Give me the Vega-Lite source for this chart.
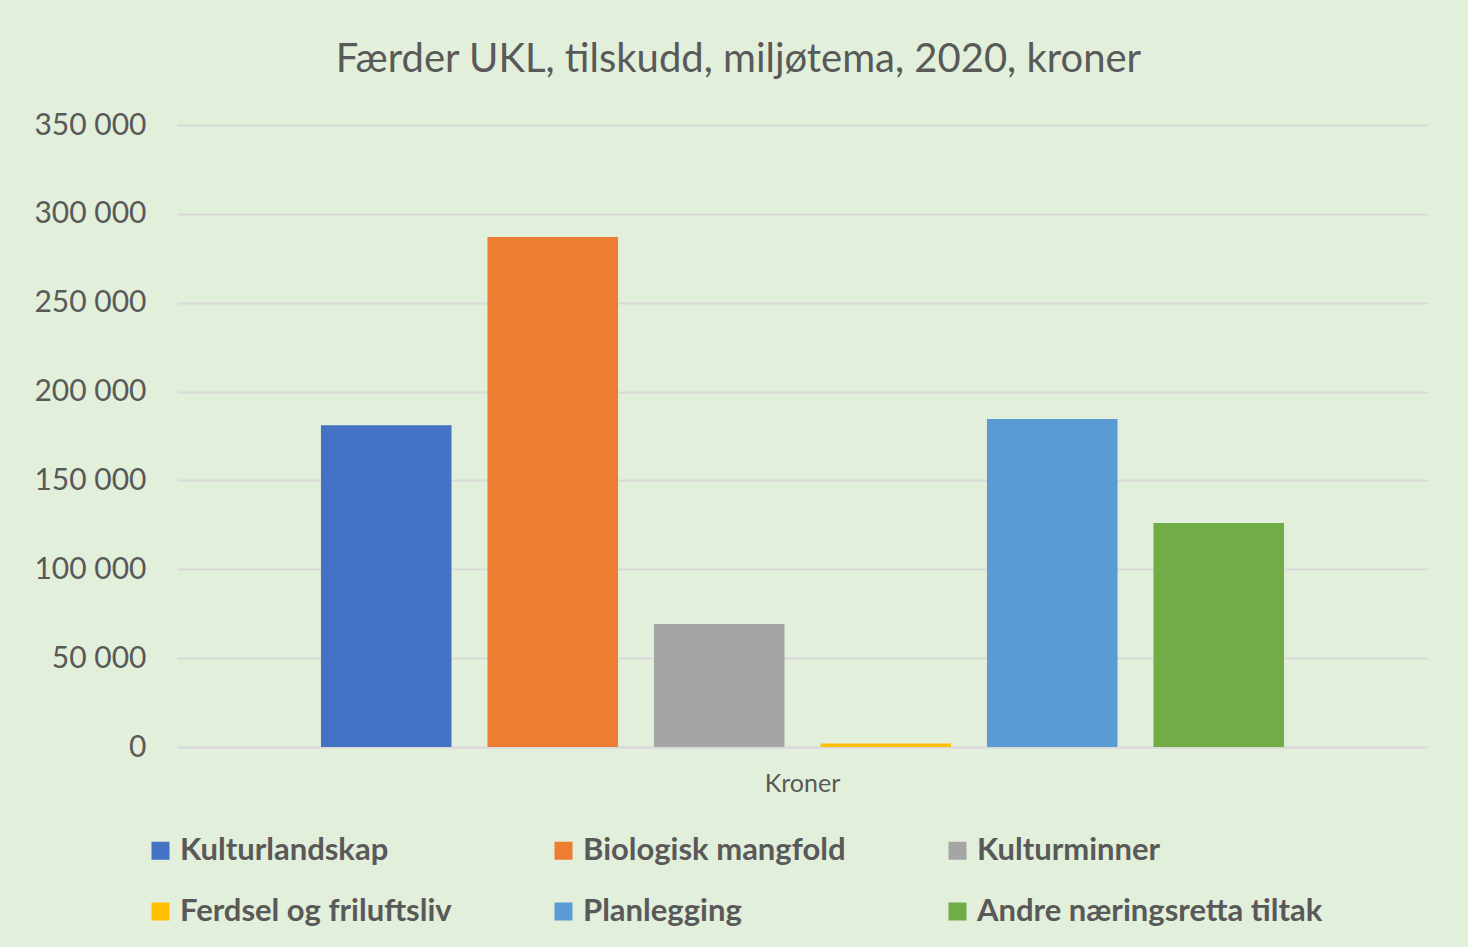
{
  "$schema": "https://vega.github.io/schema/vega-lite/v6.json",
  "width": 1251,
  "height": 622,
  "padding": {"left": 33, "top": 40, "right": 41, "bottom": 20},
  "background": "#E2EFDA",
  "config": {
    "font": "Lato",
    "view": {"stroke": null},
    "locale": {"number": {"decimal": ",", "thousands": " ", "grouping": [3], "currency": ["", " kr"]}}
  },
  "title": {
    "text": "Færder UKL, tilskudd, miljøtema, 2020, kroner",
    "fontSize": 40,
    "fontWeight": "normal",
    "color": "#595959",
    "anchor": "middle",
    "dx": -64,
    "offset": 30
  },
  "data": {
    "values": [
      {"enhet": "Kroner", "tema": "Kulturlandskap", "kroner": 181000},
      {"enhet": "Kroner", "tema": "Biologisk mangfold", "kroner": 287000},
      {"enhet": "Kroner", "tema": "Kulturminner", "kroner": 69200},
      {"enhet": "Kroner", "tema": "Ferdsel og friluftsliv", "kroner": 2000},
      {"enhet": "Kroner", "tema": "Planlegging", "kroner": 184600},
      {"enhet": "Kroner", "tema": "Andre næringsretta tiltak", "kroner": 126000}
    ]
  },
  "mark": {"type": "bar"},
  "encoding": {
    "x": {
      "field": "enhet",
      "type": "nominal",
      "scale": {"paddingInner": 0, "paddingOuter": 0.1261},
      "axis": {
        "title": null,
        "labelAngle": 0,
        "labelFontSize": 25,
        "labelColor": "#595959",
        "labelPadding": 24,
        "ticks": false,
        "domainColor": "#D9D9D9",
        "domainWidth": 2
      }
    },
    "xOffset": {
      "field": "tema",
      "type": "nominal",
      "sort": ["Kulturlandskap", "Biologisk mangfold", "Kulturminner", "Ferdsel og friluftsliv", "Planlegging", "Andre næringsretta tiltak"],
      "scale": {"paddingInner": 0.216, "paddingOuter": 0.108}
    },
    "y": {
      "field": "kroner",
      "type": "quantitative",
      "scale": {"domain": [0, 350000]},
      "axis": {
        "title": null,
        "values": [0, 50000, 100000, 150000, 200000, 250000, 300000, 350000],
        "format": ",d",
        "labelFontSize": 30,
        "labelColor": "#595959",
        "labelPadding": 31,
        "ticks": false,
        "domain": false,
        "gridColor": "#D9D9D9",
        "gridWidth": 2
      }
    },
    "color": {
      "field": "tema",
      "type": "nominal",
      "sort": ["Kulturlandskap", "Biologisk mangfold", "Kulturminner", "Ferdsel og friluftsliv", "Planlegging", "Andre næringsretta tiltak"],
      "scale": {
        "domain": ["Kulturlandskap", "Biologisk mangfold", "Kulturminner", "Ferdsel og friluftsliv", "Planlegging", "Andre næringsretta tiltak"],
        "range": ["#4472C4", "#ED7D31", "#A5A5A5", "#FFC000", "#5B9BD5", "#70AD47"]
      },
      "legend": {
        "title": null,
        "orient": "none",
        "legendX": -32,
        "legendY": 710,
        "direction": "horizontal",
        "columns": 3,
        "columnPadding": 96,
        "rowPadding": 29,
        "symbolType": "square",
        "symbolSize": 324,
        "symbolStrokeWidth": 0,
        "symbolOffset": 0,
        "labelFontSize": 31,
        "labelFontWeight": "bold",
        "labelColor": "#595959",
        "labelOffset": 4,
        "labelLimit": 500
      }
    }
  }
}
